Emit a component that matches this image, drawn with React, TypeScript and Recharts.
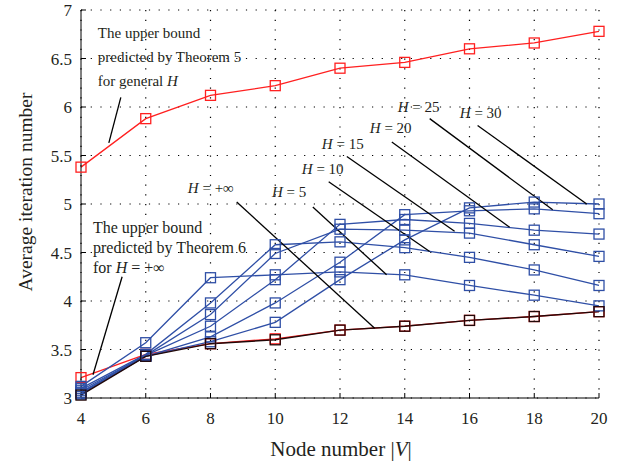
import {
  CartesianGrid,
  Label,
  Line,
  LineChart,
  ReferenceDot,
  ReferenceLine,
  XAxis,
  YAxis,
} from "recharts"

const nodes = [4, 6, 8, 10, 12, 14, 16, 18, 20]
const bound5 = [5.38, 5.88, 6.12, 6.22, 6.4, 6.46, 6.6, 6.66, 6.78]
const bound6 = [3.21, 3.45, 3.56, 3.61, 3.7, 3.74, 3.8, 3.84, 3.89]
const hInf = [3.03, 3.43, 3.56, 3.6, 3.7, 3.74, 3.8, 3.84, 3.89]
const h5 = [3.12, 3.57, 4.24, 4.27, 4.3, 4.27, 4.16, 4.06, 3.95]
const h10 = [3.1, 3.45, 3.98, 4.58, 4.61, 4.55, 4.45, 4.32, 4.16]
const h15 = [3.08, 3.44, 3.86, 4.49, 4.74, 4.73, 4.7, 4.58, 4.46]
const h20 = [3.06, 3.44, 3.74, 4.22, 4.79, 4.84, 4.8, 4.73, 4.69]
const h25 = [3.05, 3.43, 3.63, 3.98, 4.4, 4.89, 4.93, 4.95, 4.9]
const h30 = [3.04, 3.43, 3.58, 3.78, 4.22, 4.63, 4.96, 5.02, 5.0]

const xTicks = [4, 6, 8, 10, 12, 14, 16, 18, 20]
const yTicks = [3, 3.5, 4, 4.5, 5, 5.5, 6, 6.5, 7]

// pointer segments from labels to curves, in data units
const pointers: [number, number, number, number][] = [
  [5.23, 6.1, 4.86, 5.63],
  [5.27, 4.25, 4.37, 3.24],
  [8.81, 5.02, 13.07, 3.72],
  [11.16, 4.97, 13.44, 4.27],
  [11.65, 5.23, 14.77, 4.51],
  [12.21, 5.49, 15.54, 4.72],
  [13.6, 5.64, 17.24, 4.76],
  [14.77, 5.88, 18.57, 4.94],
  [16.25, 5.81, 19.62, 5.0],
]

// H = ... labels: left x, baseline y, value
const hLabels: [number, number, string][] = [
  [7.3, 5.11, "+∞"],
  [9.9, 5.07, "5"],
  [10.82, 5.31, "10"],
  [11.44, 5.57, "15"],
  [12.92, 5.73, "20"],
  [13.78, 5.95, "25"],
  [15.7, 5.89, "30"],
]

const thm5Lines = ["The upper bound", "predicted by Theorem 5", "for general "]
const thm6Lines = ["The upper bound", "predicted by Theorem 6", "for "]

const data = nodes.map((n, i) => ({
  n,
  bound5: bound5[i],
  bound6: bound6[i],
  hInf: hInf[i],
  h5: h5[i],
  h10: h10[i],
  h15: h15[i],
  h20: h20[i],
  h25: h25[i],
  h30: h30[i],
}))

const SERIF = "'Liberation Serif', 'DejaVu Serif', serif"
const INK = "#231f20"
const BLUE = "#2f4fa6"
const RED = "#ff2020"

const square = (color: string) => (p: any) => {
  if (p.cx == null || p.cy == null) return <g key={`e${p.index}`} />
  return (
    <rect
      key={`s${p.index}`}
      x={p.cx - 5}
      y={p.cy - 5}
      width={10}
      height={10}
      fill="none"
      stroke={color}
      strokeWidth={1.3}
    />
  )
}

const hText = (value: string) => (p: any) => (
  <text x={p.cx} y={p.cy} fontFamily={SERIF} fontSize={15} fill={INK}>
    <tspan fontStyle="italic">H</tspan> = {value}
  </text>
)

const blockText =
  (lines: string[], tail: any, gap: number, size: number) => (p: any) => (
    <text x={p.cx} y={p.cy} fontFamily={SERIF} fontSize={size} fill={INK}>
      {lines.map((l, i) => (
        <tspan key={i} x={p.cx} dy={i === 0 ? 0 : gap}>
          {l}
          {i === lines.length - 1 ? tail : null}
        </tspan>
      ))}
    </text>
  )

const XTitle = (p: any) => {
  const vb = p.viewBox
  return (
    <text
      x={vb.x + vb.width / 2 + 1}
      y={vb.y + 58}
      textAnchor="middle"
      fontFamily={SERIF}
      fontSize={21}
      fill={INK}
    >
      Node number |<tspan fontStyle="italic">V</tspan>|
    </text>
  )
}

const YTitle = (p: any) => {
  const vb = p.viewBox
  const cy = vb.y + vb.height / 2 - 12
  return (
    <text
      x={32}
      y={cy}
      transform={`rotate(-90, 32, ${cy})`}
      textAnchor="middle"
      fontFamily={SERIF}
      fontSize={19.5}
      fill={INK}
    >
      Average iteration number
    </text>
  )
}

const tickStyle = { fill: INK, fontSize: 17, fontFamily: SERIF }

export default function App() {
  const blues = ["h5", "h10", "h15", "h20", "h25", "h30"]
  return (
    <div style={{ position: "absolute", left: 0, top: 0, background: "#fff" }}>
      <LineChart
        width={629}
        height={466}
        data={data}
        margin={{ top: 10, right: 30, bottom: 0, left: 0 }}
      >
        <CartesianGrid
          stroke="#000"
          strokeDasharray="1.2 8.5"
          strokeWidth={1.2}
        />
        <XAxis
          dataKey="n"
          type="number"
          domain={[4, 20]}
          ticks={xTicks}
          height={68}
          tickSize={-5}
          tickMargin={19}
          stroke="#000"
          tick={tickStyle}
          interval={0}
        >
          <Label content={XTitle} />
        </XAxis>
        <XAxis
          xAxisId="top"
          orientation="top"
          type="number"
          domain={[4, 20]}
          ticks={xTicks}
          height={0}
          tickSize={-5}
          tick={false}
          stroke="#000"
        />
        <YAxis
          type="number"
          domain={[3, 7]}
          ticks={yTicks}
          width={81}
          tickSize={-5}
          tickMargin={14}
          stroke="#000"
          tick={tickStyle}
          interval={0}
        >
          <Label content={YTitle} />
        </YAxis>
        <YAxis
          yAxisId="right"
          orientation="right"
          type="number"
          domain={[3, 7]}
          ticks={yTicks}
          width={0}
          tickSize={-5}
          tick={false}
          stroke="#000"
        />
        <Line
          dataKey="bound6"
          stroke={RED}
          strokeWidth={1.3}
          dot={square(RED)}
          isAnimationActive={false}
        />
        {blues.map((k) => (
          <Line
            key={k}
            dataKey={k}
            stroke={BLUE}
            strokeWidth={1.3}
            dot={square(BLUE)}
            isAnimationActive={false}
          />
        ))}
        <Line
          dataKey="hInf"
          stroke="#220808"
          strokeWidth={1.4}
          dot={square("#220808")}
          isAnimationActive={false}
        />
        <Line
          dataKey="bound5"
          stroke={RED}
          strokeWidth={1.3}
          dot={square(RED)}
          isAnimationActive={false}
        />
        {pointers.map(([x1, y1, x2, y2], i) => (
          <ReferenceLine
            key={`p${i}`}
            segment={[
              { x: x1, y: y1 },
              { x: x2, y: y2 },
            ]}
            stroke="#000"
            strokeWidth={1.3}
          />
        ))}
        {hLabels.map(([x, y, v]) => (
          <ReferenceDot key={`h${v}`} x={x} y={y} r={0} shape={hText(v)} />
        ))}
        <ReferenceDot
          x={4.52}
          y={6.71}
          r={0}
          shape={blockText(
            thm5Lines,
            <tspan fontStyle="italic">H</tspan>,
            24,
            15
          )}
        />
        <ReferenceDot
          x={4.37}
          y={4.7}
          r={0}
          shape={blockText(
            thm6Lines,
            <>
              <tspan fontStyle="italic">H</tspan> = +∞
            </>,
            20,
            16
          )}
        />
      </LineChart>
    </div>
  )
}
